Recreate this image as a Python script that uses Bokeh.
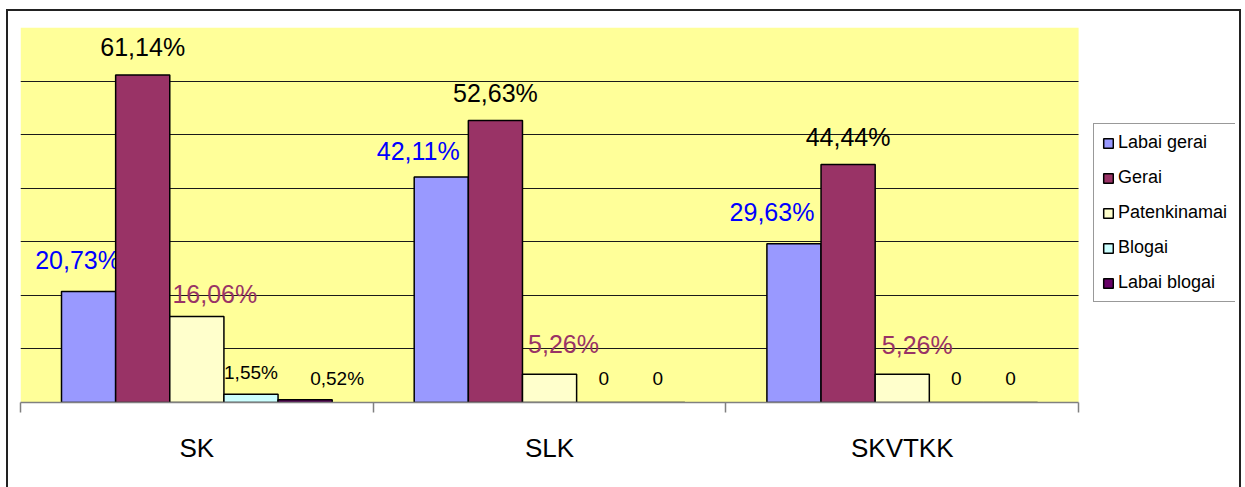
from bokeh.plotting import figure
from bokeh.models import Range1d, FixedTicker, Legend, LegendItem, ColumnDataSource
from bokeh.core.properties import value
from bokeh.embed import file_html
from bokeh.resources import INLINE

# --- data -------------------------------------------------------------
categories = ["SK", "SLK", "SKVTKK"]
series_names = ["Labai gerai", "Gerai", "Patenkinamai", "Blogai", "Labai blogai"]
labai_gerai = [20.73, 42.11, 29.63]
gerai = [61.14, 52.63, 44.44]
patenkinamai = [16.06, 5.26, 5.26]
blogai = [1.55, 0, 0]
labai_blogai = [0.52, 0, 0]
series_values = [labai_gerai, gerai, patenkinamai, blogai, labai_blogai]

# --- styling ----------------------------------------------------------
FONT = "Liberation Sans"
bar_fill = ["#9999FF", "#993366", "#FFFFCC", "#CCFFFF", "#660066"]
label_color = ["#0000FF", "#000000", "#993366", "#000000", "#000000"]
label_size = ["25px", "25px", "25px", "19px", "19px"]
bar_w = 0.1535
# per-label nudges (dx, rise) in pixels, indexed [series][category]
nudges = [
    [(-11, 31), (-23, 26), (-22, 32)],
    [(0, 28), (0, 28), (0, 27)],
    [(18, 22), (14, 30), (15, 29)],
    [(0, 22), (0, 24), (0, 24)],
    [(32, 21), (0, 24), (0, 24)],
]

FIG_W, FIG_H = 1235, 480
BORDER_L, BORDER_R, BORDER_T, BORDER_B = 12, 8, 16, 89
GROUP_PX = 352.7                      # width of one category group on screen
n_cat = len(categories)
y_max = 70
frame_w = FIG_W - BORDER_L - BORDER_R
x_end = frame_w / GROUP_PX            # frame also hosts the legend on the right

p = figure(width=FIG_W, height=FIG_H, output_backend="svg", toolbar_location=None,
           x_range=Range1d(0, x_end), y_range=Range1d(0, y_max),
           min_border_left=BORDER_L, min_border_right=BORDER_R,
           min_border_top=BORDER_T, min_border_bottom=BORDER_B)
# chart-area frame around the whole figure
p.margin = (9, 0, 0, 6)
p.styles = {"border": "2px solid #222222"}
p.background_fill_color = "white"
p.border_fill_color = "white"
p.outline_line_color = None

# yellow plot area behind the grid
p.quad(left=[0], right=[n_cat], bottom=[0], top=[y_max],
       fill_color="#FFFF99", line_color=None, level="image")

# horizontal gridlines every 10 %, only across the plot area
p.xgrid.visible = False
p.ygrid.ticker = FixedTicker(ticks=[10, 20, 30, 40, 50, 60, 70])
p.ygrid.cross_bounds = (0, n_cat)
p.ygrid.grid_line_color = "#1a1a1a"
p.ygrid.grid_line_width = 1
p.yaxis.visible = False

# category axis: names centred, tick marks at group boundaries
centers = [i + 0.5 for i in range(n_cat)]
bounds = [float(i) for i in range(n_cat + 1)]
p.xaxis.bounds = (0, n_cat)
p.xaxis.ticker = FixedTicker(ticks=centers, minor_ticks=bounds)
p.xaxis.major_label_overrides = {c: name for c, name in zip(centers, categories)}
p.xaxis.major_tick_line_color = None
p.xaxis.major_tick_out = 0
p.xaxis.major_tick_in = 0
p.xaxis.minor_tick_out = 10
p.xaxis.minor_tick_in = 0
p.xaxis.minor_tick_line_color = "#808080"
p.xaxis.minor_tick_line_width = 1.5
p.xaxis.axis_line_color = "#808080"
p.xaxis.axis_line_width = 1.5
p.xaxis.major_label_text_font = FONT
p.xaxis.major_label_text_font_size = "26px"
p.xaxis.major_label_text_color = "black"
p.xaxis.major_label_standoff = 20

items = []
n = len(series_names)
for s, (name, vals) in enumerate(zip(series_names, series_values)):
    off = (s - (n - 1) / 2) * bar_w
    xs = [c + off for c in centers]
    src = ColumnDataSource(dict(x=xs, top=vals))
    r = p.vbar(x="x", top="top", width=bar_w, bottom=0, source=src,
               fill_color=bar_fill[s], line_color="black", line_width=1.5)
    items.append(LegendItem(label=name, renderers=[r]))

    texts = [("0" if v == 0 else f"{v:.2f}".replace(".", ",") + "%") for v in vals]
    dxs = [nudges[s][i][0] for i in range(len(vals))]
    dys = [-nudges[s][i][1] for i in range(len(vals))]
    lsrc = ColumnDataSource(dict(x=xs, y=vals, t=texts, dx=dxs, dy=dys))
    p.text(x="x", y="y", text="t", x_offset="dx", y_offset="dy", source=lsrc,
           text_font=value(FONT), text_font_size=label_size[s],
           text_color=label_color[s], text_align="center",
           text_baseline="middle")

legend = Legend(items=items, location=(1073, 100), orientation="vertical",
                label_text_font=FONT, label_text_font_size="18px",
                label_text_color="black",
                glyph_width=12, glyph_height=12, label_height=21,
                label_standoff=4, spacing=14, padding=8, margin=0,
                border_line_color="#333333", border_line_width=1.5,
                background_fill_color="white", background_fill_alpha=1)
p.add_layout(legend, "center")

open("out.html", "w").write(file_html(p, INLINE))
